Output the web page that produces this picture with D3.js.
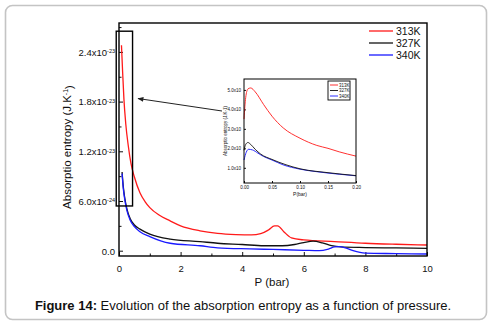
<!DOCTYPE html>
<html lang="en">
<head>
<meta charset="UTF-8">
<title>Absorption entropy vs pressure</title>
<script src="https://d3js.org/d3.v7.min.js"></script>
<style>
  body { margin: 0; background: #fff; }
  text { font-family: "Liberation Sans", Arial, sans-serif; fill: #111; }
</style>
</head>
<body>
<div id="chart"></div>
<script>
// values in units of 1e-24 J/K, P in bar
const series = ["313K", "327K", "340K"];
const colors = ["#ff1a1a", "#111111", "#1a1aff"];

const pRed = [0.08, 0.12, 0.16, 0.22, 0.30, 0.39, 0.50, 0.68, 0.85, 1.0, 1.3, 1.66, 2.0, 2.63, 3.2, 3.8, 4.3, 4.6, 4.85, 5.05, 5.15, 5.35, 5.6, 6.0, 7.0, 8.0, 9.0, 10.0];
const sRed = [24.8, 21.4, 18.3, 15.3, 12.7, 10.5, 8.9, 7.0, 5.9, 5.2, 4.3, 3.6, 3.0, 2.4, 2.1, 1.95, 1.9, 2.05, 2.5, 3.0, 3.0, 2.3, 1.55, 1.3, 1.1, 0.9, 0.78, 0.69];

const pBlack = [0.1, 0.14, 0.19, 0.26, 0.36, 0.5, 0.68, 1.0, 1.66, 2.63, 3.2, 4.0, 4.7, 5.3, 5.7, 6.0, 6.3, 6.6, 6.9, 7.2, 8.0, 9.0, 10.0];
const sBlack = [9.5, 7.7, 6.3, 5.0, 3.9, 3.1, 2.6, 2.0, 1.4, 1.1, 0.9, 0.75, 0.6, 0.6, 0.75, 0.98, 1.15, 0.95, 0.6, 0.45, 0.38, 0.33, 0.29];

const pBlue = [0.1, 0.14, 0.19, 0.26, 0.36, 0.5, 0.68, 1.0, 1.66, 2.63, 3.2, 4.25, 5.0, 6.0, 6.5, 6.8, 7.0, 7.15, 7.35, 7.6, 8.0, 9.0, 10.0];
const sBlue = [9.3, 7.5, 6.1, 4.8, 3.7, 2.9, 2.3, 1.7, 0.9, 0.6, 0.35, 0.22, 0.15, 0.05, 0.0, 0.2, 0.45, 0.48, 0.35, 0.0, -0.3, -0.35, -0.4];

const xTicks = [0, 2, 4, 6, 8, 10];
const xMinor = [1, 3, 5, 7, 9];
const yTicks = [0, 6, 12, 18, 24];
const yMinor = [3, 9, 15, 21, 27];
const yMant = ["0.0", "6.0", "1.2", "1.8", "2.4"];
const yExp = ["", "-24", "-23", "-23", "-23"];

// inset: P in bar (0..0.2), values in units of 1e-23
const ipRed = [0.0, 0.003, 0.007, 0.012, 0.02, 0.035, 0.05, 0.07, 0.1, 0.13, 0.15, 0.17, 0.2];
const isRed = [3.5, 4.6, 5.05, 5.1, 4.9, 4.25, 3.65, 3.05, 2.52, 2.15, 2.0, 1.82, 1.6];
const ipBlack = [0.0, 0.003, 0.007, 0.012, 0.02, 0.03, 0.05, 0.1, 0.15, 0.2];
const isBlack = [1.9, 2.2, 2.3, 2.2, 1.95, 1.7, 1.43, 0.95, 0.75, 0.6];
const ipBlue = [0.0, 0.004, 0.008, 0.015, 0.025, 0.035, 0.05, 0.07, 0.1, 0.13, 0.15, 0.17, 0.2];
const isBlue = [1.4, 1.8, 1.95, 1.92, 1.75, 1.58, 1.4, 1.15, 0.93, 0.8, 0.73, 0.67, 0.59];
const ixTicks = [0, 0.05, 0.1, 0.15, 0.2];
const ixLabels = ["0.00", "0.05", "0.10", "0.15", "0.20"];
const iyTicks = [1, 2, 3, 4, 5];
const iyLabels = ["1.0x10", "2.0x10", "3.0x10", "4.0x10", "5.0x10"];

const width = 497, height = 328;
const svg = d3.select("#chart").append("svg")
  .attr("width", width).attr("height", height);

// outer frame
svg.append("rect")
  .attr("x", 5.5).attr("y", 5.5).attr("width", 481).attr("height", 314)
  .attr("rx", 7).attr("fill", "none").attr("stroke", "#c4c4c4").attr("stroke-width", 1.6);

const x = d3.scaleLinear().domain([0, 10]).range([119, 427]);
const y = d3.scaleLinear().domain([-0.64, 27.49]).range([256, 23]);

const line = d3.line().x(d => x(d[0])).y(d => y(d[1])).curve(d3.curveMonotoneX);
const pairs = (a, b) => a.map((v, i) => [v, b[i]]);
const mainData = [pairs(pRed, sRed), pairs(pBlack, sBlack), pairs(pBlue, sBlue)];

// axes with inward ticks
const gx = svg.append("g").attr("transform", `translate(0,256)`)
  .call(d3.axisBottom(x).tickValues(xTicks).tickSizeInner(-4).tickSizeOuter(0).tickPadding(9));
gx.select(".domain").remove();
gx.selectAll("text").attr("font-size", 9.5).style("font-family", "Liberation Sans, Arial, sans-serif");
svg.append("g").attr("transform", `translate(0,256)`)
  .call(d3.axisBottom(x).tickValues(xMinor).tickSizeInner(-2.5).tickSizeOuter(0).tickFormat(""))
  .select(".domain").remove();

const gy = svg.append("g").attr("transform", `translate(119,0)`)
  .call(d3.axisLeft(y).tickValues(yTicks).tickSizeInner(-4).tickSizeOuter(0).tickFormat(""));
gy.select(".domain").remove();
gy.selectAll(".tick").each(function (d, i) {
  const t = d3.select(this).append("text")
    .attr("x", -4).attr("dy", "0.35em")
    .attr("text-anchor", "end").attr("font-size", 9.5);
  t.append("tspan").text(yMant[i] + (yExp[i] ? "x10" : ""));
  if (yExp[i]) {
    t.append("tspan").attr("dy", "-0.45em").attr("font-size", 5.5).text(yExp[i]);
  }
});
svg.append("g").attr("transform", `translate(119,0)`)
  .call(d3.axisLeft(y).tickValues(yMinor.filter(v => v < 27.4)).tickSizeInner(-2.5).tickSizeOuter(0).tickFormat(""))
  .select(".domain").remove();
svg.selectAll(".tick line").attr("stroke", "#111").attr("stroke-width", 1);

// curves
mainData.forEach((d, i) => {
  svg.append("path").datum(d)
    .attr("fill", "none").attr("stroke", colors[i]).attr("stroke-width", 1.3)
    .attr("d", line);
});

// plot frame
svg.append("rect").attr("x", 119).attr("y", 23).attr("width", 308).attr("height", 233)
  .attr("fill", "none").attr("stroke", "#000").attr("stroke-width", 1.4);

// zoom box around the low-pressure region
svg.append("rect")
  .attr("x", x(-0.09)).attr("y", y(26.5))
  .attr("width", x(0.44) - x(-0.09)).attr("height", y(5.4) - y(26.5))
  .attr("fill", "none").attr("stroke", "#000").attr("stroke-width", 1.4);

// arrow
svg.append("defs").append("marker")
  .attr("id", "ah").attr("viewBox", "0 0 10 10").attr("refX", 9).attr("refY", 5)
  .attr("markerWidth", 7).attr("markerHeight", 6).attr("orient", "auto")
  .append("path").attr("d", "M0,1 L10,5 L0,9 z").attr("fill", "#222");
svg.append("line").attr("x1", 222).attr("y1", 111).attr("x2", 138).attr("y2", 98.5)
  .attr("stroke", "#222").attr("stroke-width", 1).attr("marker-end", "url(#ah)");

// legend
series.forEach((s, i) => {
  const ly = 31 + i * 12;
  svg.append("line").attr("x1", 369).attr("x2", 393).attr("y1", ly).attr("y2", ly)
    .attr("stroke", colors[i]).attr("stroke-width", 1.3);
  svg.append("text").attr("x", 396).attr("y", ly).attr("dy", "0.36em")
    .attr("font-size", 10.5).text(s);
});

// axis titles
svg.append("text").attr("x", 272).attr("y", 286).attr("text-anchor", "middle")
  .attr("font-size", 11.5).text("P (bar)");
const yl = svg.append("text").attr("transform", "translate(71,147) rotate(-90)")
  .attr("text-anchor", "middle").attr("font-size", 11.5);
yl.append("tspan").text("Absorptio entropy (J.K");
yl.append("tspan").attr("dy", "-0.45em").attr("font-size", 7).text("-1");
yl.append("tspan").attr("dy", "0.45em").text(")");

// ---------- inset ----------
const ix = d3.scaleLinear().domain([0, 0.2]).range([244, 356]);
const iy = d3.scaleLinear().domain([0.22, 5.56]).range([183, 79]);
const iline = d3.line().x(d => ix(d[0])).y(d => iy(d[1])).curve(d3.curveMonotoneX);
const insetData = [pairs(ipRed, isRed), pairs(ipBlack, isBlack), pairs(ipBlue, isBlue)];

const igx = svg.append("g").attr("transform", "translate(0,183)")
  .call(d3.axisBottom(ix).tickValues(ixTicks).tickSizeInner(-2).tickSizeOuter(0)
    .tickPadding(3).tickFormat((d, i) => ixLabels[i]));
igx.select(".domain").remove();
igx.selectAll("text").attr("font-size", 4.5);
const igy = svg.append("g").attr("transform", "translate(244,0)")
  .call(d3.axisLeft(iy).tickValues(iyTicks).tickSizeInner(-2).tickSizeOuter(0)
    .tickPadding(3).tickFormat((d, i) => iyLabels[i]));
igy.select(".domain").remove();
igy.selectAll("text").attr("font-size", 4.5);
svg.selectAll(".tick line").attr("stroke", "#111");

[2, 1, 0].forEach(i => {
  svg.append("path").datum(insetData[i])
    .attr("fill", "none").attr("stroke", colors[i]).attr("stroke-width", 0.9)
    .attr("d", iline);
});
svg.append("rect").attr("x", 244).attr("y", 79).attr("width", 112).attr("height", 104)
  .attr("fill", "none").attr("stroke", "#000").attr("stroke-width", 1);

svg.append("text").attr("x", 300).attr("y", 196).attr("text-anchor", "middle")
  .attr("font-size", 5).text("P(bar)");
svg.append("text").attr("transform", "translate(227,131) rotate(-90)")
  .attr("text-anchor", "middle").attr("font-size", 4.5).text("Absorptio entropy (J.K-1)");

// inset legend
svg.append("rect").attr("x", 328).attr("y", 81).attr("width", 22).attr("height", 19)
  .attr("fill", "#fff").attr("stroke", "#000").attr("stroke-width", 0.9);
series.forEach((s, i) => {
  const ly = 85 + i * 5.5;
  svg.append("line").attr("x1", 330).attr("x2", 338).attr("y1", ly).attr("y2", ly)
    .attr("stroke", colors[i]).attr("stroke-width", 0.9);
  svg.append("text").attr("x", 339).attr("y", ly).attr("dy", "0.36em")
    .attr("font-size", 4.5).text(s);
});

// caption
const cap = svg.append("text").attr("x", 243).attr("y", 310).attr("text-anchor", "middle")
  .attr("font-size", 13);
cap.append("tspan").attr("font-weight", "bold").text("Figure 14:");
cap.append("tspan").text(" Evolution of the absorption entropy as a function of pressure.");
</script>
</body>
</html>
